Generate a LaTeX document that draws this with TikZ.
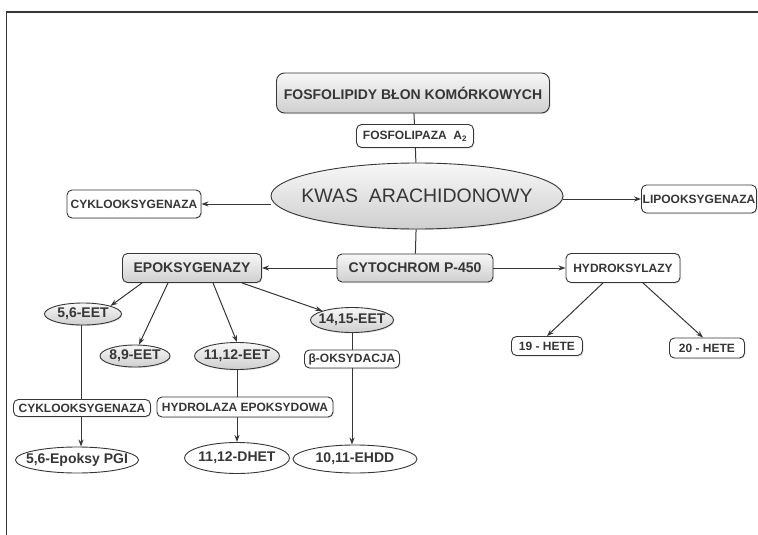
\documentclass[tikz,border=0pt]{standalone}
\usepackage{fontspec}
\setmainfont{Liberation Sans}
\usepackage{tikz}
\usetikzlibrary{arrows.meta,shapes.geometric,shadows}
\definecolor{ink}{HTML}{363636}
\tikzset{
  sm/.style={font=\fontsize{12}{14}\selectfont\bfseries},
  md/.style={font=\fontsize{14}{16}\selectfont\bfseries},
  box/.style={rectangle,rounded corners=5pt,draw=ink,line width=0.9pt,fill=white,text=ink,inner sep=1pt,align=center,
    drop shadow={shadow xshift=1pt,shadow yshift=-1pt,fill=gray!45}},
  gbox/.style={box,top color=gray!6,bottom color=gray!38},
  eet/.style={ellipse,draw=ink,line width=0.9pt,text=ink,inner ysep=0pt,inner xsep=-10pt,md,top color=gray!6,bottom color=gray!38,
    drop shadow={shadow xshift=1pt,shadow yshift=-1pt,fill=gray!45}},
  prod/.style={ellipse,draw=ink,line width=0.9pt,fill=white,text=ink,inner ysep=0pt,inner xsep=-10pt,md},
  ln/.style={draw=ink,line width=1pt},
  arr/.style={ln,-{Stealth[length=7pt,width=5pt]}}
}
\begin{document}
\begin{tikzpicture}[x=1pt,y=-1pt]
\useasboundingbox (0,0) rectangle (758,535);
\draw[ink,line width=1.4pt] (758,12) -- (6.5,12) -- (6.5,535);
\node at (413,93)[gbox,md,minimum width=273pt,minimum height=40pt,rounded corners=8pt](fosf){FOSFOLIPIDY BŁON KOMÓRKOWYCH};
\node at (415,136)[box,sm,minimum width=117pt,minimum height=23pt](lipaza){FOSFOLIPAZA\ \ A\textsubscript{2}};
\node at (417,196)[eet,font=\fontsize{19.5}{22}\selectfont,inner xsep=-22pt,minimum width=292pt,minimum height=66pt](kwas){KWAS\ \ ARACHIDONOWY};
\node at (134,204)[box,sm,minimum width=134pt,minimum height=28pt](cyklo1){CYKLOOKSYGENAZA};
\node at (699,199)[box,sm,minimum width=115pt,minimum height=28pt](lipo){LIPOOKSYGENAZA};
\node at (415,268)[gbox,md,minimum width=156pt,minimum height=28pt](cyto){CYTOCHROM P-450};
\node at (192,268)[gbox,md,minimum width=139pt,minimum height=29pt](epo){EPOKSYGENAZY};
\node at (623,268)[box,sm,minimum width=114pt,minimum height=29pt](hydro){HYDROKSYLAZY};
\node at (547,346)[box,sm,minimum width=71pt,minimum height=19pt](h19){19 - HETE};
\node at (707,348)[box,sm,minimum width=75pt,minimum height=20pt](h20){20 - HETE};
\node at (83,314)[eet,minimum width=77pt,minimum height=22pt](e56){5,6-EET};
\node at (135,356)[eet,minimum width=70pt,minimum height=22pt](e89){8,9-EET};
\node at (237,356)[eet,minimum width=85pt,minimum height=27pt](e1112){11,12-EET};
\node at (352,320)[eet,minimum width=83pt,minimum height=25pt](e1415){14,15-EET};
\node at (352,359)[box,sm,minimum width=95pt,minimum height=18pt](beta){β-OKSYDACJA};
\node at (82,408)[box,sm,minimum width=137pt,minimum height=17pt](cyklo2){CYKLOOKSYGENAZA};
\node at (245,407)[box,sm,minimum width=176pt,minimum height=20pt](hydrol){HYDROLAZA EPOKSYDOWA};
\node at (77,460)[prod,minimum width=123pt,minimum height=26pt](pgi){5,6-Epoksy PGI};
\node at (237,458)[prod,minimum width=105pt,minimum height=31pt](dhet){11,12-DHET};
\node at (355,459)[prod,minimum width=124pt,minimum height=28pt](ehdd){10,11-EHDD};
\draw[ln] (fosf) -- (lipaza);
\draw[ln] (lipaza) -- (kwas);
\draw[ln] (kwas) -- (cyto);
\draw[arr] (kwas.west |- cyklo1) -- (cyklo1);
\draw[arr] (kwas.east |- lipo) -- (lipo);
\draw[arr] (cyto) -- (epo);
\draw[arr] (cyto) -- (hydro);
\draw[arr] ([xshift=-20pt]hydro.south) -- (h19.north);
\draw[arr] ([xshift=20pt]hydro.south) -- ([xshift=-4pt]h20.north);
\draw[arr] ([xshift=-50pt]epo.south) -- (e56.north east);
\draw[arr] ([xshift=-24pt]epo.south) -- ([xshift=4pt]e89.north);
\draw[arr] ([xshift=21pt]epo.south) -- (e1112.north);
\draw[arr] ([xshift=50pt]epo.south) -- (e1415.north west);
\draw[ln] ([xshift=-2pt]e56.south) -- ([xshift=-2pt]e56.south |- cyklo2.north);
\draw[arr] ([xshift=-2pt]e56.south |- cyklo2.south) -- ([xshift=-2pt]e56.south |- pgi.north);
\draw[ln] (e1112) -- (e1112 |- hydrol.north);
\draw[arr] (e1112 |- hydrol.south) -- (dhet);
\draw[ln] (e1415) -- (beta);
\draw[arr] (beta) -- (beta |- ehdd.north);
\end{tikzpicture}
\end{document}
